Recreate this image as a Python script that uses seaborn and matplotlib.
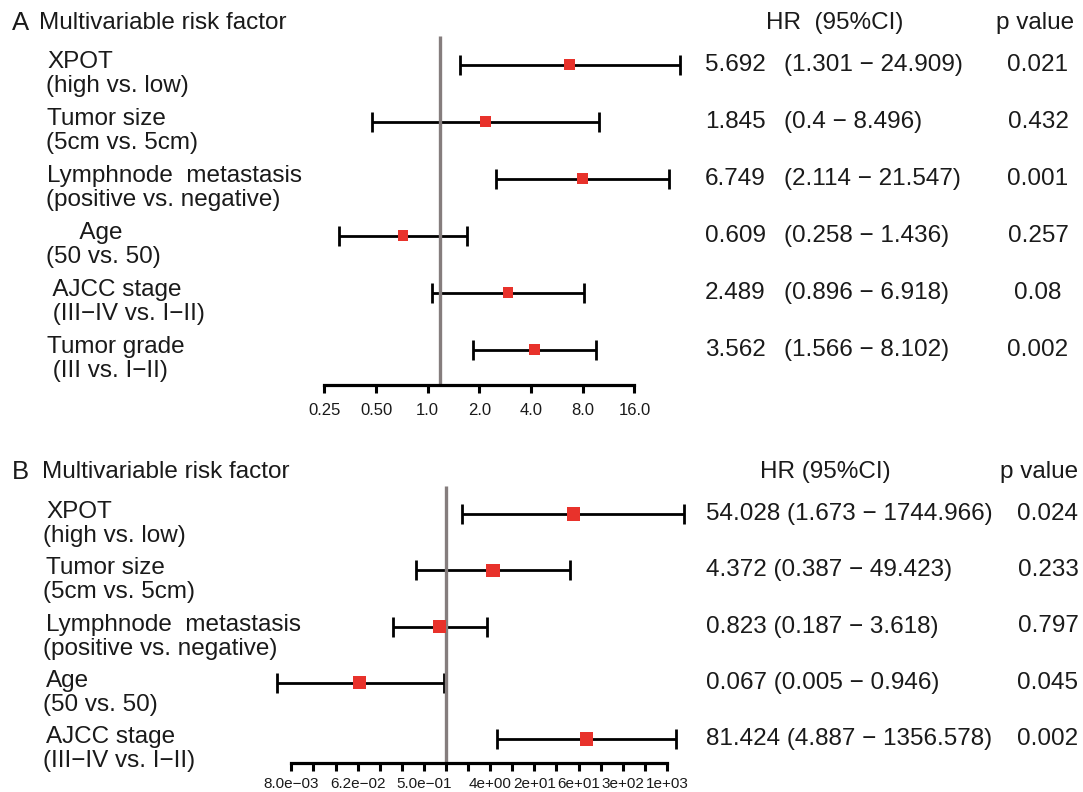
import numpy as np
import pandas as pd
import matplotlib
matplotlib.use("Agg")
import matplotlib.pyplot as plt
import seaborn as sns

sns.set_theme(style="white")
plt.rcParams["font.family"] = ["Liberation Sans", "DejaVu Sans"]

# ---------------- data ----------------
a_names = ["XPOT", "Tumor size", "Lymphnode  metastasis", "     Age", " AJCC stage", "Tumor grade"]
a_subs = ["(high vs. low)", "(5cm vs. 5cm)", "(positive vs. negative)", "(50 vs. 50)",
          " (III\u2212IV vs. I\u2212II)", " (III vs. I\u2212II)"]
a_hr = [5.692, 1.845, 6.749, 0.609, 2.489, 3.562]
a_lo = [1.301, 0.4, 2.114, 0.258, 0.896, 1.566]
a_hi = [24.909, 8.496, 21.547, 1.436, 6.918, 8.102]
a_p = ["0.021", "0.432", "0.001", "0.257", "0.08", "0.002"]
a_ticks = [0.25, 0.5, 1.0, 2.0, 4.0, 8.0, 16.0]
a_ticklabels = ["0.25", "0.50", "1.0", "2.0", "4.0", "8.0", "16.0"]

b_names = ["XPOT", "Tumor size", "Lymphnode  metastasis", "Age", "AJCC stage"]
b_subs = ["(high vs. low)", "(5cm vs. 5cm)", "(positive vs. negative)", "(50 vs. 50)",
          "(III\u2212IV vs. I\u2212II)"]
b_hr = [54.028, 4.372, 0.823, 0.067, 81.424]
b_lo = [1.673, 0.387, 0.187, 0.005, 4.887]
b_hi = [1744.966, 49.423, 3.618, 0.946, 1356.578]
b_p = ["0.024", "0.233", "0.797", "0.045", "0.002"]
b_tick_exp = list(range(-7, 11))
b_ticklabels = ["8.0e\u221203", "", "", "6.2e\u221202", "", "", "5.0e\u221201", "", "",
                "4e+00", "", "2e+01", "", "6e+01", "", "3e+02", "", "1e+03"]

# ---------------- layout ----------------
W, H = 1083, 792
fig = plt.figure(figsize=(W / 100, H / 100), dpi=100)
RED = "#e8322b"
GRAY = "#857d7d"
TXT = "#1a1a1a"
FS = 17.5


def fx(x):
    return x / W


def fy(y):
    return 1 - y / H


def panel(box, x0, xs, y0, ys, axis_y, ref_top, ticks, ticklabels, tick_fs, tick_pad, n,
          hr, lo, hi, msize, capsize):
    left, top, right, bottom = box
    ax = fig.add_axes([fx(left), fy(bottom), (right - left) / W, (bottom - top) / H])
    ax.set_facecolor("none")
    ax.set_xscale("log", base=2)
    ax.set_xlim(2 ** ((left - x0) / xs), 2 ** ((right - x0) / xs))
    ax.set_ylim((bottom - y0) / ys, (top - y0) / ys)
    rows = np.arange(n)
    hr = np.array(hr); lo = np.array(lo); hi = np.array(hi)
    ax.errorbar(hr, rows, xerr=[hr - lo, hi - hr], fmt="none", ecolor="black",
                elinewidth=2.0, capsize=capsize, capthick=2.0, zorder=2)
    arow = (axis_y - y0) / ys
    ax.vlines(1.0, (ref_top - y0) / ys, arow, color=GRAY, lw=2.4, zorder=2.5)
    df = pd.DataFrame({"hr": hr, "row": rows})
    sns.scatterplot(data=df, x="hr", y="row", marker="s", s=msize, color=RED,
                    edgecolor="none", linewidth=0, ax=ax, zorder=3, legend=False)
    for s in ["top", "right", "left"]:
        ax.spines[s].set_visible(False)
    ax.spines["bottom"].set_position(("data", arow))
    ax.spines["bottom"].set_linewidth(2.3)
    ax.spines["bottom"].set_color("black")
    ax.spines["bottom"].set_bounds(ticks[0], ticks[-1])
    ax.set_xticks(ticks)
    ax.set_xticklabels(ticklabels)
    ax.minorticks_off()
    ax.tick_params(axis="x", direction="out", length=6, width=2.2, color="black",
                   pad=tick_pad, labelsize=tick_fs, labelcolor=TXT, bottom=True)
    ax.set_yticks([])
    ax.set_xlabel("")
    ax.set_ylabel("")
    ax.grid(False)
    return ax


# ---------- Panel A ----------
A_X0, A_XS = 440, 51.67
A_Y0, A_YS = 64.7, 57.0
TICK_SHIFT = (427.7 - 440) / 51.67
a_tickpos = [t * 2 ** TICK_SHIFT for t in a_ticks]
panel((290, 28, 700, 425), A_X0, A_XS, A_Y0, A_YS, 385, 36, a_tickpos, a_ticklabels,
      12, 7, len(a_hr), a_hr, a_lo, a_hi, 60, 7.5)

fig.text(fx(12), fy(23), "A", fontsize=FS + 1, color=TXT, va="center", ha="left")
fig.text(fx(39), fy(23), "Multivariable risk factor", fontsize=FS, color=TXT, va="center", ha="left")
fig.text(fx(766), fy(23), "HR  (95%CI)", fontsize=FS, color=TXT, va="center", ha="left")
fig.text(fx(996), fy(23), "p value", fontsize=FS, color=TXT, va="center", ha="left")
for i in range(len(a_hr)):
    yr = A_Y0 + A_YS * i
    fig.text(fx(47), fy(yr - 3), a_names[i], fontsize=FS, color=TXT, va="center", ha="left")
    fig.text(fx(46), fy(yr + 21), a_subs[i], fontsize=FS, color=TXT, va="center", ha="left")
    fig.text(fx(705), fy(yr), f"{a_hr[i]}", fontsize=FS, color=TXT, va="center", ha="left")
    fig.text(fx(784), fy(yr), f"({a_lo[i]} \u2212 {a_hi[i]})", fontsize=FS, color=TXT,
             va="center", ha="left")
    fig.text(fx(1038), fy(yr), a_p[i], fontsize=FS, color=TXT, va="center", ha="center")

# ---------- Panel B ----------
B_X0, B_XS = 446, 22.09
B_Y0, B_YS = 514, 56.25
b_tickpos = [2.0 ** k for k in b_tick_exp]
panel((250, 478, 700, 792), B_X0, B_XS, B_Y0, B_YS, 763, 486, b_tickpos, b_ticklabels,
      11, 4, len(b_hr), b_hr, b_lo, b_hi, 90, 7.5)

fig.text(fx(12), fy(472), "B", fontsize=FS + 1, color=TXT, va="center", ha="left")
fig.text(fx(42), fy(472), "Multivariable risk factor", fontsize=FS, color=TXT, va="center", ha="left")
fig.text(fx(760), fy(472), "HR (95%CI)", fontsize=FS, color=TXT, va="center", ha="left")
fig.text(fx(1000), fy(472), "p value", fontsize=FS, color=TXT, va="center", ha="left")
for i in range(len(b_hr)):
    yr = B_Y0 + B_YS * i
    fig.text(fx(46), fy(yr - 2), b_names[i], fontsize=FS, color=TXT, va="center", ha="left")
    fig.text(fx(43), fy(yr + 22), b_subs[i], fontsize=FS, color=TXT, va="center", ha="left")
    fig.text(fx(706), fy(yr), f"{b_hr[i]} ({b_lo[i]} \u2212 {b_hi[i]})", fontsize=FS,
             color=TXT, va="center", ha="left")
    fig.text(fx(1048), fy(yr), b_p[i], fontsize=FS, color=TXT, va="center", ha="center")

fig.savefig("out.png", dpi=100, facecolor="white")
